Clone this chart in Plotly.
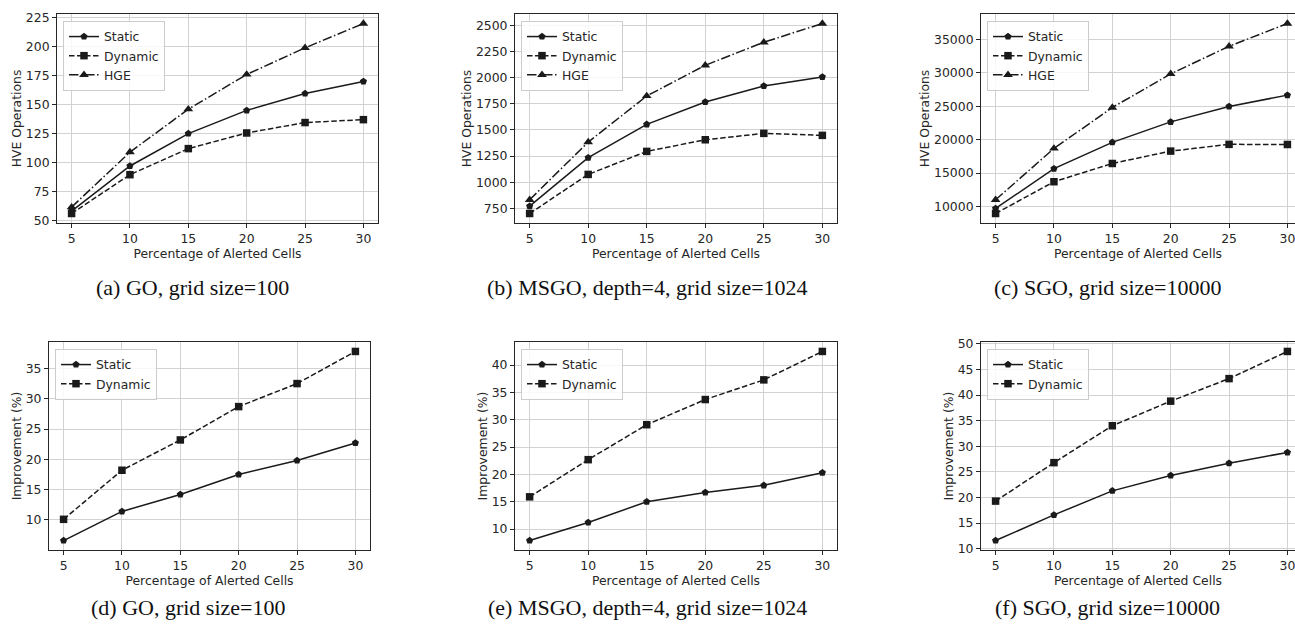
import plotly.graph_objects as go

# ---------------- data ----------------
x_pct = [5, 10, 15, 20, 25, 30]
x_ticks = [5, 10, 15, 20, 25, 30]

# (a) GO, grid size=100  -- HVE operations
go_static = [58, 97, 125, 145, 159.5, 170]
go_dynamic = [56, 89.5, 112, 125.5, 134.5, 137]
go_hge = [61.5, 109, 146, 176, 199, 220]

# (b) MSGO, depth=4, grid size=1024
msgo_static = [772, 1235, 1553, 1767, 1920, 2006]
msgo_dynamic = [702, 1075, 1295, 1406, 1467, 1448]
msgo_hge = [833, 1384, 1824, 2117, 2337, 2516]

# (c) SGO, grid size=10000
sgo_static = [9700, 15650, 19590, 22650, 24950, 26650]
sgo_dynamic = [8950, 13700, 16430, 18280, 19290, 19270]
sgo_hge = [11000, 18680, 24800, 29830, 33950, 37360]

# (d) GO improvement (%)
go_imp_static = [6.6, 11.4, 14.2, 17.5, 19.8, 22.7]
go_imp_dynamic = [10.1, 18.2, 23.2, 28.7, 32.5, 37.8]

# (e) MSGO improvement (%)
msgo_imp_static = [7.9, 11.2, 15.0, 16.7, 18.0, 20.3]
msgo_imp_dynamic = [15.9, 22.7, 29.1, 33.7, 37.3, 42.5]

# (f) SGO improvement (%)
sgo_imp_static = [11.6, 16.6, 21.3, 24.3, 26.7, 28.8]
sgo_imp_dynamic = [19.3, 26.8, 34.0, 38.8, 43.2, 48.5]

yticks_a = [50, 75, 100, 125, 150, 175, 200, 225]
yticks_b = [750, 1000, 1250, 1500, 1750, 2000, 2250, 2500]
yticks_c = [10000, 15000, 20000, 25000, 30000, 35000]
yticks_d = [10, 15, 20, 25, 30, 35]
yticks_e = [10, 15, 20, 25, 30, 35, 40]
yticks_f = [10, 15, 20, 25, 30, 35, 40, 45, 50]

captions = [
    "(a) GO, grid size=100",
    "(b) MSGO, depth=4, grid size=1024",
    "(c) SGO, grid size=10000",
    "(d) GO, grid size=100",
    "(e) MSGO, depth=4, grid size=1024",
    "(f) SGO, grid size=10000",
]
series_names = ["Static", "Dynamic", "HGE"]
ylabel_top = "HVE Operations"
ylabel_bottom = "Improvement (%)"
xlabel = "Percentage of Alerted Cells"

# ---------------- layout geometry (pixels) ----------------
W, H = 1295, 626
panels = [
    dict(l=57, r=378, t=14, b=223, series=[go_static, go_dynamic, go_hge], yt=yticks_a, ylab=ylabel_top),
    dict(l=515, r=837, t=14, b=223, series=[msgo_static, msgo_dynamic, msgo_hge], yt=yticks_b, ylab=ylabel_top),
    dict(l=981, r=1302, t=14, b=223, series=[sgo_static, sgo_dynamic, sgo_hge], yt=yticks_c, ylab=ylabel_top),
    dict(l=49, r=370, t=342, b=550, series=[go_imp_static, go_imp_dynamic], yt=yticks_d, ylab=ylabel_bottom),
    dict(l=515, r=837, t=342, b=550, series=[msgo_imp_static, msgo_imp_dynamic], yt=yticks_e, ylab=ylabel_bottom),
    dict(l=981, r=1302, t=342, b=550, series=[sgo_imp_static, sgo_imp_dynamic], yt=yticks_f, ylab=ylabel_bottom),
]
caption_pos = [(192, 287), (647, 287), (1107, 287), (188, 607), (647, 607), (1107, 607)]

styles = [
    dict(dash="solid", symbol="pentagon", size=7.5),
    dict(dash="5.5px,2.5px", symbol="square", size=7.5),
    dict(dash="9.5px,2.5px,1.5px,2.5px", symbol="triangle-up", size=8.5),
]
INK = "#1a1a1a"
AX = "#262626"
FONT = dict(family="DejaVu Sans", size=12.4, color=AX)

fig = go.Figure()
layout = dict(
    width=W, height=H,
    margin=dict(l=0, r=0, t=0, b=0),
    paper_bgcolor="white", plot_bgcolor="white",
    font=FONT,
    annotations=[],
)

xmin, xmax = 3.75, 31.25
for i, p in enumerate(panels):
    k = "" if i == 0 else str(i + 1)
    right = min(p["r"], W)
    xr_end = xmin + (xmax - xmin) * (right - p["l"]) / (p["r"] - p["l"])
    dom_x = [p["l"] / W, right / W]
    dom_y = [1 - p["b"] / H, 1 - p["t"] / H]
    allv = [v for s in p["series"] for v in s]
    lo, hi = min(allv), max(allv)
    pad = 0.05 * (hi - lo)
    clipped = p["r"] > W
    axis_common = dict(
        showline=True, linecolor=AX, linewidth=1,
        ticks="outside", ticklen=4, tickwidth=1, tickcolor=AX,
        showgrid=True, gridcolor="#d2d2d2", gridwidth=1,
        zeroline=False, tickfont=FONT, automargin=False,
        ticklabeloverflow="allow",
    )
    layout["xaxis" + k] = dict(
        axis_common, domain=dom_x, range=[xmin, xr_end],
        tickvals=x_ticks, mirror=True,
        anchor="y" + k,
        title=dict(text=xlabel, font=FONT, standoff=2),
    )
    layout["yaxis" + k] = dict(
        axis_common, domain=dom_y, range=[lo - pad, hi + pad],
        tickvals=p["yt"], tickformat="d", mirror=(not clipped),
        anchor="x" + k,
        title=dict(text=p["ylab"], font=FONT, standoff=1),
    )
    leg = "legend" if i == 0 else "legend" + str(i + 1)
    layout[leg] = dict(
        x=(p["l"] + 6) / W, y=1 - (p["t"] + 7) / H,
        xanchor="left", yanchor="top",
        bgcolor="rgba(255,255,255,0.85)", bordercolor="#cccccc", borderwidth=1,
        font=dict(family="DejaVu Sans", size=12.4, color=AX),
        tracegroupgap=0, itemwidth=30,
    )
    for j, ys in enumerate(p["series"]):
        st = styles[j]
        fig.add_trace(go.Scatter(
            x=x_pct, y=ys, name=series_names[j],
            mode="lines+markers",
            line=dict(color=INK, width=1.5, dash=st["dash"]),
            marker=dict(symbol=st["symbol"], size=st["size"], color=INK),
            xaxis="x" + k, yaxis="y" + k, legend=leg, showlegend=True,
        ))
    cx, cy = caption_pos[i]
    layout["annotations"].append(dict(
        text=captions[i], x=cx / W, y=1 - cy / H, xref="paper", yref="paper",
        xanchor="center", yanchor="middle", showarrow=False,
        font=dict(family="Liberation Serif", size=22, color="#111111"),
    ))

fig.update_layout(**layout)
fig.write_html("out.html")
